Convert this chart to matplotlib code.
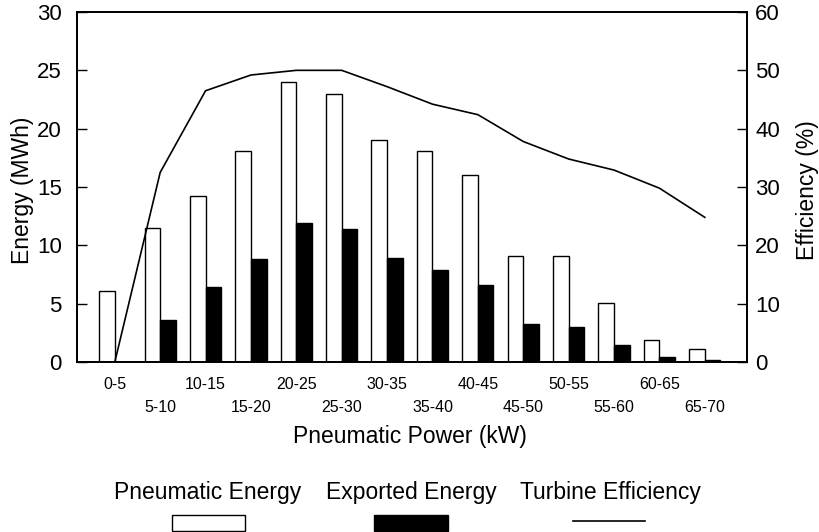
import matplotlib
matplotlib.use("Agg")
import matplotlib.pyplot as plt
import numpy as np
from matplotlib.patches import Rectangle
from matplotlib.lines import Line2D

plt.rcParams['font.family'] = ['Liberation Sans', 'DejaVu Sans']

categories = ["0-5", "5-10", "10-15", "15-20", "20-25", "25-30", "30-35",
              "35-40", "40-45", "45-50", "50-55", "55-60", "60-65", "65-70"]
pneumatic_energy = [6.1, 11.5, 14.2, 18.1, 24.0, 23.0, 19.0, 18.1, 16.0, 9.1, 9.1, 5.1, 1.9, 1.1]
exported_energy = [0.0, 3.6, 6.4, 8.8, 11.9, 11.4, 8.9, 7.9, 6.6, 3.3, 3.0, 1.5, 0.4, 0.15]
turbine_efficiency = [0.0, 32.5, 46.5, 49.2, 50.0, 50.0, 47.2, 44.2, 42.4, 37.8, 34.8, 32.9, 29.8, 24.8]

fig = plt.figure(figsize=(8.19, 5.32), dpi=100)
ax = fig.add_axes([77/819, 1-362/532, 670/819, 350/532])
ax2 = ax.twinx()

x = np.arange(len(categories))
w = 0.344
ax.bar(x - w/2, pneumatic_energy, width=w, color='white', edgecolor='black', linewidth=1.0, zorder=2)
ax.bar(x + w/2, exported_energy, width=w, color='black', edgecolor='black', linewidth=1.0, zorder=2)
ax2.plot(x, turbine_efficiency, color='black', linewidth=1.2)

ax.set_xlim(-0.833, 13.93)
ax.set_ylim(0, 30)
ax2.set_ylim(0, 60)
ax.set_yticks(range(0, 31, 5))
ax2.set_yticks(range(0, 61, 10))

ax.tick_params(axis='y', direction='in', length=7, width=1.0, pad=11, labelsize=16)
ax2.tick_params(axis='y', direction='in', length=7, width=1.0, pad=6, labelsize=16)

# staggered x tick labels
ax.set_xticks(x[::2])
ax.set_xticklabels(categories[::2])
ax.set_xticks(x[1::2], minor=True)
ax.set_xticklabels(categories[1::2], minor=True)
ax.tick_params(axis='x', which='major', length=0, pad=11, labelsize=11.5)
ax.tick_params(axis='x', which='minor', length=0, pad=27.5, labelsize=11.5)

for a in (ax, ax2):
    for s in a.spines.values():
        s.set_linewidth(1.3)

ax.set_xlabel("Pneumatic Power (kW)", fontsize=16.5)
ax.xaxis.set_label_coords(0.497, -0.214)
ax.xaxis.label.set_va('center')
ax.set_ylabel("Energy (MWh)", fontsize=16.5)
ax.yaxis.set_label_coords(-0.082, 0.49)
ax.yaxis.label.set_va('center')
ax2.set_ylabel("Efficiency (%)", fontsize=16.5, rotation=90)
ax2.yaxis.set_label_coords(1.091, 0.49)
ax2.yaxis.label.set_va('center')

# manual legend below
ty = 1 - 492/532
fig.text(208/819, ty, "Pneumatic Energy", ha='center', va='center', fontsize=16.5)
fig.text(411/819, ty, "Exported Energy", ha='center', va='center', fontsize=16.5)
fig.text(610/819, ty, "Turbine Efficiency", ha='center', va='center', fontsize=16.5)
fig.patches.append(Rectangle((172/819, 1-531/532), 73/819, 16/532, transform=fig.transFigure,
                             facecolor='white', edgecolor='black', linewidth=1.0))
fig.patches.append(Rectangle((374/819, 1-531/532), 74/819, 16/532, transform=fig.transFigure,
                             facecolor='black', edgecolor='black', linewidth=1.0))
fig.lines.append(Line2D([573/819, 645/819], [1-521/532, 1-521/532], transform=fig.transFigure,
                        color='black', linewidth=1.2))

fig.savefig("out.png", dpi=100)
